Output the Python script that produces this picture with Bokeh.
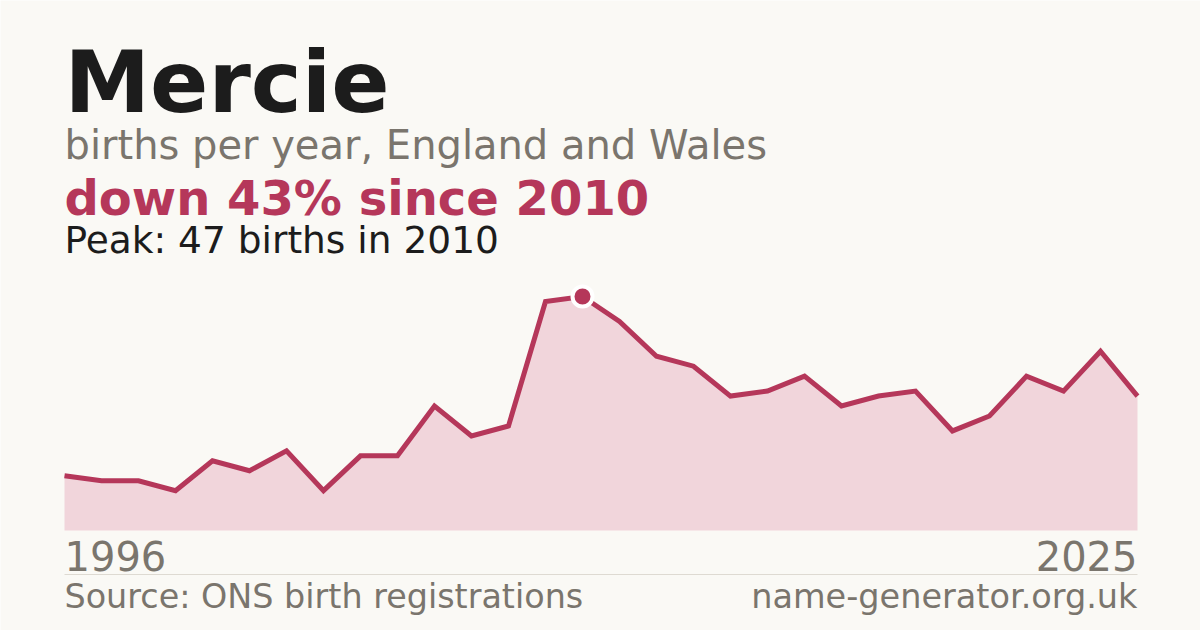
from bokeh.plotting import figure
from bokeh.models import Label, ColumnDataSource
from bokeh.embed import file_html
from bokeh.resources import INLINE

years = list(range(1996, 2026))
births = [11, 10, 10, 8, 14, 12, 16, 8, 15, 15, 25, 19, 21, 46, 47, 42, 35, 33, 27, 28,
          31, 25, 27, 28, 20, 23, 31, 28, 36, 27]
title_text = "Mercie"
subtitle_text = "births per year, England and Wales"
change_text = "down 43% since 2010"
peak_text = "Peak: 47 births in 2010"
source_text = "Source: ONS birth registrations"
site_text = "name-generator.org.uk"

BG = "#faf9f5"
ACCENT = "#b5375a"
FILL = "#f1d5db"
GREY = "#7a756d"
DARK = "#1c1c1c"
FONT = "DejaVu Sans"

W, H = 1200, 630
px_per_year = 1073 / 29
px_per_unit = 234 / 47
x0 = years[0] - 64 / px_per_year
y0 = -100 / px_per_unit

p = figure(width=W, height=H, output_backend="svg", toolbar_location=None,
           x_range=(x0, x0 + W / px_per_year), y_range=(y0, y0 + H / px_per_unit),
           min_border=0, background_fill_color=BG, border_fill_color=BG)
p.axis.visible = False
p.grid.visible = False
p.outline_line_color = None

src = ColumnDataSource(dict(x=years, y=births, zero=[0] * len(years)))
p.varea(x="x", y1="zero", y2="y", source=src, fill_color=FILL)
p.line(x="x", y="y", source=src, line_color=ACCENT, line_width=5, line_join="miter")

pk = births.index(max(births))
p.scatter([years[pk]], [births[pk]], size=20, fill_color=ACCENT,
          line_color="white", line_width=4)

K = 0.36

def lab(text, x, base_from_top, size, color, bold=False, align="left", units="screen"):
    p.add_layout(Label(x=x, y=H - base_from_top + K * size, x_units=units, y_units="screen",
                       text=text, text_font=FONT, text_font_size=f"{size}px",
                       text_font_style="bold" if bold else "normal",
                       text_color=color, text_align=align, text_baseline="alphabetic"))

lab(title_text, 64, 112, 86, DARK, bold=True)
lab(subtitle_text, 64, 159, 40, GREY)
lab(change_text, 64, 215, 48, ACCENT, bold=True)
lab(peak_text, 64, 253, 37.5, DARK)
lab(str(years[0]), years[0], 570, 40, GREY, units="data")
lab(str(years[-1]), years[-1], 570, 40, GREY, align="right", units="data")
lab(source_text, 64, 608.5, 33.4, GREY)
lab(site_text, years[-1], 608.5, 33.5, GREY, align="right", units="data")

sep_y = y0 + (H - 574) / px_per_unit
p.segment(x0=[years[0]], y0=[sep_y], x1=[years[-1]], y1=[sep_y],
          line_color="#dedad2", line_width=1)

html = file_html(p, INLINE)
html = html.replace("<body>", f'<body style="background:{BG}">', 1)
open("out.html", "w").write(html)
